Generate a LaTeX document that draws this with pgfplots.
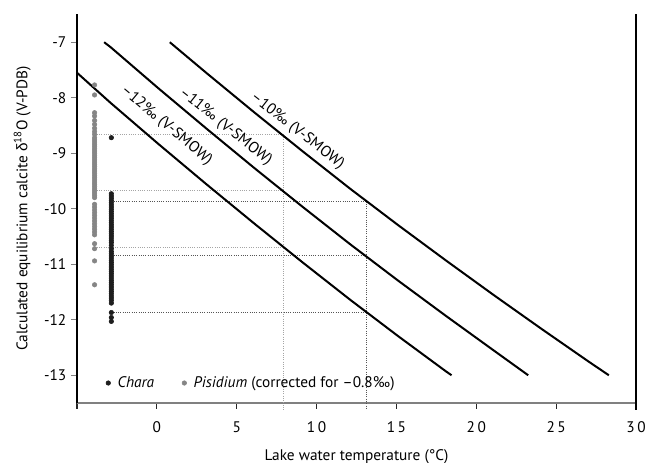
\documentclass[border=0pt]{standalone}
\usepackage{fontspec}
\setmainfont{PT Sans}
\newfontfamily\grk{Liberation Sans}
\usepackage{pgfplots}
\pgfplotsset{compat=1.18}
\definecolor{pis}{HTML}{858585}
\definecolor{cha}{HTML}{1E1E1E}
\definecolor{dotg}{HTML}{A5A5A5}
\definecolor{dotk}{HTML}{555555}
\newcommand{\fs}{\fontsize{11.5}{13}\selectfont}
\begin{document}
\begin{tikzpicture}
\useasboundingbox (0,0) rectangle (493.5pt,347.25pt);
\begin{axis}[
  at={(57.75pt,45pt)}, anchor=south west,
  scale only axis, width=419.25pt, height=291.4pt,
  xmin=-5, xmax=30, ymin=-13.5, ymax=-6.5,
  clip=false,
  axis x line*=bottom, axis y line*=left,
  axis line style={-},
  x axis line style={draw=black!50, line width=1.1pt},
  y axis line style={draw=black, line width=0.8pt},
  xtick={-5,0,5,10,15,20,25,30},
  xticklabels={{},0,5,{1\,0},{1\,5},{2\,0},{2\,5},{3\,0}},
  ytick={-13,-12,-11,-10,-9,-8,-7},
  tick align=outside,
  major tick length=4.5pt,
  x tick style={black!85, line width=0.8pt},
  y tick style={black!50, line width=0.8pt},
  /pgf/number format/assume math mode=true,
  tick label style={font=\fs},
  xticklabel style={yshift=-6pt},
  xlabel={Lake water temperature (°C)},
  ylabel={Calculated equilibrium calcite {\grk δ}\textsuperscript{18}O (V-PDB)},
  every axis x label/.style={at={(axis description cs:0.5,-0.138)}, anchor=center, font=\fs},
  every axis y label/.style={at={(axis description cs:-0.098,0.5)}, rotate=90, anchor=center, font=\fs},
  legend style={at={(axis cs:-3.45,-13.14)}, anchor=west, draw=none, fill=none,
    legend columns=-1, font=\fs,
    /tikz/every even column/.append style={column sep=19pt}},
  legend image code/.code={\draw[#1] plot coordinates {(0cm,0cm)}; \path (0.17cm,0cm);},
]
% dotted guide lines (Pisidium, grey)
\addplot[dotg, line width=0.7pt, densely dotted, forget plot] coordinates {(-3.9,-8.67) (7.9,-8.67)};
\addplot[dotg, line width=0.7pt, densely dotted, forget plot] coordinates {(-3.9,-9.67) (7.9,-9.67)};
\addplot[dotg, line width=0.7pt, densely dotted, forget plot] coordinates {(-3.9,-10.70) (7.9,-10.70)};
\addplot[dotg, line width=0.7pt, densely dotted, forget plot] coordinates {(7.9,-8.67) (7.9,-13.62)};
% dotted guide lines (Chara, dark)
\addplot[dotk, line width=0.7pt, densely dotted, forget plot] coordinates {(-2.85,-9.87) (13.1,-9.87)};
\addplot[dotk, line width=0.7pt, densely dotted, forget plot] coordinates {(-2.85,-10.85) (13.1,-10.85)};
\addplot[dotk, line width=0.7pt, densely dotted, forget plot] coordinates {(-2.85,-11.87) (13.1,-11.87)};
\addplot[dotk, line width=0.7pt, densely dotted, forget plot] coordinates {(13.1,-9.87) (13.1,-13.62)};
% equilibrium lines
\addplot[black, line width=1.5pt, forget plot] coordinates {
(-5,-7.55) (-2.9,-8.092) (0.1,-8.834) (3.1,-9.558) (6.1,-10.267) (9.1,-10.961) (12.1,-11.639) (15.1,-12.294) (18.1,-12.930) (18.45,-13)};
\addplot[black, line width=1.5pt, forget plot] coordinates {
(-3.3,-7) (-2.9,-7.088) (0.1,-7.831) (3.1,-8.555) (6.1,-9.266) (9.1,-9.960) (12.1,-10.639) (15.1,-11.294) (18.1,-11.931) (21.1,-12.555) (23.25,-13)};
\addplot[black, line width=1.5pt, forget plot] coordinates {
(0.81,-7) (3.1,-7.553) (6.1,-8.264) (9.1,-8.959) (12.1,-9.639) (15.1,-10.294) (18.1,-10.932) (21.1,-11.557) (24.1,-12.168) (27.1,-12.767) (28.3,-13)};
% Chara
\addplot[only marks, mark=*, mark size=1.7pt, draw=cha, fill=cha] coordinates {
(-2.85,-8.72)
(-2.85,-9.73) (-2.85,-9.77) (-2.85,-9.81) (-2.85,-9.85) (-2.85,-9.89) (-2.85,-9.93) (-2.85,-9.97)
(-2.85,-10.01) (-2.85,-10.05) (-2.85,-10.09) (-2.85,-10.13) (-2.85,-10.17) (-2.85,-10.21) (-2.85,-10.25)
(-2.85,-10.29) (-2.85,-10.33) (-2.85,-10.37) (-2.85,-10.41) (-2.85,-10.45) (-2.85,-10.49) (-2.85,-10.53)
(-2.85,-10.57) (-2.85,-10.61) (-2.85,-10.66) (-2.85,-10.72) (-2.85,-10.77) (-2.85,-10.81) (-2.85,-10.85)
(-2.85,-10.89) (-2.85,-10.93) (-2.85,-10.97) (-2.85,-11.01) (-2.85,-11.05) (-2.85,-11.09) (-2.85,-11.13)
(-2.85,-11.17) (-2.85,-11.21) (-2.85,-11.25) (-2.85,-11.29) (-2.85,-11.33) (-2.85,-11.37) (-2.85,-11.41)
(-2.85,-11.45) (-2.85,-11.49) (-2.85,-11.53) (-2.85,-11.57) (-2.85,-11.61) (-2.85,-11.65) (-2.85,-11.70)
(-2.85,-11.87) (-2.85,-11.96) (-2.85,-12.03)};
\addlegendentry{\textit{Chara}}
% Pisidium
\addplot[only marks, mark=*, mark size=1.7pt, draw=pis, fill=pis] coordinates {
(-3.9,-7.77) (-3.9,-7.95) (-3.9,-8.27) (-3.9,-8.33) (-3.9,-8.41) (-3.9,-8.48) (-3.9,-8.55) (-3.9,-8.61)
(-3.9,-8.66) (-3.9,-8.72) (-3.9,-8.76) (-3.9,-8.80) (-3.9,-8.84) (-3.9,-8.88) (-3.9,-8.92) (-3.9,-8.96)
(-3.9,-9.00) (-3.9,-9.04) (-3.9,-9.08) (-3.9,-9.12) (-3.9,-9.16) (-3.9,-9.20) (-3.9,-9.24) (-3.9,-9.28)
(-3.9,-9.32) (-3.9,-9.36) (-3.9,-9.40) (-3.9,-9.44) (-3.9,-9.48) (-3.9,-9.52) (-3.9,-9.56) (-3.9,-9.60)
(-3.9,-9.64) (-3.9,-9.68) (-3.9,-9.72) (-3.9,-9.76) (-3.9,-9.80)
(-3.9,-9.92) (-3.9,-9.97) (-3.9,-10.02) (-3.9,-10.07) (-3.9,-10.12) (-3.9,-10.17) (-3.9,-10.22)
(-3.9,-10.27) (-3.9,-10.32) (-3.9,-10.37) (-3.9,-10.42) (-3.9,-10.47)
(-3.9,-10.63) (-3.9,-10.72) (-3.9,-10.94) (-3.9,-11.37)};
\addlegendentry{\textit{Pisidium} (corrected for --0.8‰)}
% labels of the equilibrium lines
\node[rotate=-40, font=\fs] at (axis cs:0.6,-8.50) {--12‰ (V-SMOW)};
\node[rotate=-38.5, font=\fs] at (axis cs:4.3,-8.52) {--11‰ (V-SMOW)};
\node[rotate=-38, font=\fs] at (axis cs:8.8,-8.60) {--10‰ (V-SMOW)};
% right frame line
\draw[black, line width=0.8pt] (axis cs:30,-13.62) -- (axis cs:30,-6.5);
\end{axis}
\end{tikzpicture}
\end{document}
